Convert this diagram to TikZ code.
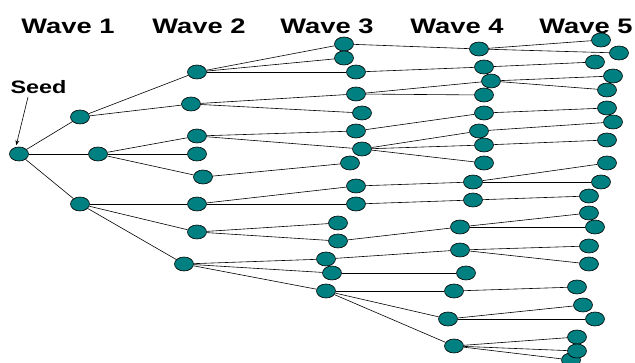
\documentclass[tikz,border=0pt]{standalone}
\usepackage{fontspec}
\setmainfont{Liberation Sans}
\newfontfamily\widefont[FakeStretch=1.3]{Liberation Sans}
\usetikzlibrary{arrows.meta,shapes.geometric}
\definecolor{g}{RGB}{0, 128, 128}
\tikzset{
  dot/.style={ellipse,draw=black,fill=g,line width=0.6pt,minimum width=19pt,minimum height=14pt,inner sep=0pt},
  wave/.style={font=\widefont\bfseries\fontsize{21}{21}\selectfont,inner sep=0pt},
  link/.style={line width=0.6pt}
}
\begin{document}
\begin{tikzpicture}[x=1pt,y=-1pt]
\useasboundingbox (0,0) rectangle (635,363);
% titres des vagues
\foreach \i/\x in {1/68,2/199,3/327,4/457,5/586}
  \node[wave] (w\i) at (\x,26.5) {Wave \i};
\node[wave,font=\widefont\bfseries\fontsize{18}{18}\selectfont] (seedlbl) at (38.5,87.5) {Seed};
% les noeuds
\foreach \n/\x/\y in {s/19/154,
    a1/80/117, b1/98/154, c1/80/204,
    a2/197/72, b2/191/104, c2/197/136, d2/197/154, e2/203/177, f2/197/204, g2/197/232, h2/184/264,
    a3/344/44, b3/344/58, c3/356/72, d3/356/94, e3/362/113, f3/356/131, g3/362/149, h3/350/163,
    i3/356/186, j3/356/204, k3/338/223, l3/338/241, m3/326/259, n3/332/273, o3/326/291,
    a4/479/49, b4/484/67, c4/491/81, d4/484/95, e4/484/113, f4/479/131, g4/484/145, h4/484/163,
    i4/473/182, j4/473/200, k4/460/227, l4/460/250, m4/466/273, n4/454/291, o4/448/319, p4/454/346,
    a5/601/40, b5/619/53, c5/595/62, d5/613/76, e5/607/90, f5/607/108, g5/613/122, h5/607/140,
    i5/607/163, j5/601/182, k5/589/196, l5/589/213, m5/595/227, n5/589/246, o5/589/264,
    p5/577/287, q5/583/305, r5/595/319, u5/571/360, s5/577/337, t5/577/351}
  \node[dot] (\n) at (\x,\y) {};
% les liens
\foreach \p/\q in {s/a1, s/b1, s/c1,
    a1/a2, a1/b2, b1/c2, b1/d2, b1/e2, c1/f2, c1/g2, c1/h2,
    a2/a3, a2/b3, a2/c3, b2/d3, b2/e3, c2/f3, c2/g3, e2/h3, f2/i3, f2/j3,
    g2/k3, g2/l3, h2/m3, h2/n3, h2/o3,
    a3/a4, c3/b4, d3/c4, d3/d4, f3/e4, g3/f4, g3/g4, g3/h4, i3/i4, j3/j4,
    l3/k4, m3/l4, n3/m4, o3/n4, o3/o4, o3/p4,
    a4/a5, a4/b5, b4/c5, c4/d5, c4/e5, e4/f5, f4/g5, g4/h5, i4/i5, i4/j5,
    j4/k5, k4/l5, k4/m5, l4/n5, l4/o5, n4/p5, o4/q5, o4/r5, p4/s5, p4/t5, p4/u5}
  \draw[link] (\p) -- (\q);
\coordinate (tail) at (28,97);
\draw[link,-{Stealth[length=5pt,width=4pt]},shorten >=2pt] (tail) -- (s.115);
\end{tikzpicture}
\end{document}
